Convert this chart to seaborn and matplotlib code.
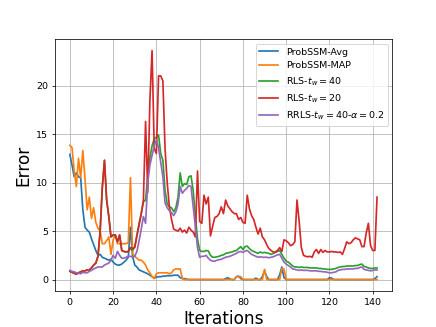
import matplotlib
matplotlib.use("Agg")
import matplotlib.pyplot as plt
import pandas as pd
import seaborn as sns

# iteration index 0..142
iterations = list(range(143))

prob_avg = [
    12.9, 11.8, 10.6, 11.0, 10.6, 10.5, 7.2, 5.4, 5.1, 4.9,
    4.2, 3.6, 3.0, 2.5, 2.6, 2.3, 2.2, 2.1, 2.0, 2.1,
    1.8, 1.6, 1.5, 1.5, 1.6, 1.8, 2.0, 2.3, 5.4, 2.4,
    1.5, 1.3, 1.0, 0.9, 0.8, 0.7, 0.6, 0.45, 0.3, 0.15,
    0.25, 0.3, 0.3, 0.35, 0.35, 0.4, 0.4, 0.4, 0.45, 0.45,
    0.45, 0.2, 0.1, 0.1, 0.05, 0, 0, 0, 0, 0,
    0, 0, 0, 0, 0, 0, 0, 0, 0, 0,
    0, 0, 0.1, 0.2, 0.05, 0, 0, 0.3, 0.35, 0.1,
    0, 0, 0, 0, 0, 0, 0.15, 0, 0, 0.3,
    0.9, 0.3, 0, 0, 0, 0, 0, 0.5, 1.3, 0.2,
    0, 0, 0, 0, 0, 0, 0, 0, 0, 0,
    0, 0, 0, 0, 0, 0, 0, 0, 0, 0,
    0.2, 0.15, 0, 0, 0, 0, 0, 0, 0, 0,
    0, 0, 0, 0, 0, 0, 0, 0, 0, 0,
    0, 0.1, 0.3,
]

prob_map = [
    13.85, 13.6, 11.2, 9.6, 12.5, 10.5, 13.3, 10.4, 7.2, 8.5,
    6.3, 7.4, 5.9, 5.3, 5.0, 3.7, 3.7, 4.0, 4.4, 2.6,
    4.1, 4.6, 3.7, 3.7, 3.7, 3.7, 3.7, 3.8, 10.5, 2.7,
    2.4, 2.2, 2.0, 2.0, 1.8, 1.5, 1.0, 0.7, 0.3, 0.1,
    0.6, 0.7, 0.7, 0.7, 0.7, 0.7, 0.6, 0.7, 1.0, 1.1,
    1.1, 1.1, 0.1, 0, 0, 0, 0, 0, 0, 0,
    0, 0, 0, 0, 0, 0, 0, 0, 0, 0,
    0, 0, 0, 0, 0, 0, 0, 0.3, 0.3, 0.3,
    0, 0, 0, 0, 0, 0, 0, 0, 0, 0,
    1.05, 0, 0, 0, 0, 0, 0, 0, 1.15, 1.1,
    0, 0, 0, 0, 0, 0, 0, 0, 0, 0,
    0, 0, 0, 0, 0, 0, 0, 0, 0, 0,
    0, 0, 0, 0, 0, 0, 0, 0, 0, 0,
    0, 0, 0, 0, 0, 0, 0, 0, 0, 0,
    0, 0, 0,
]

rls_40 = [
    0.85, 0.75, 0.65, 0.55, 0.7, 0.8, 0.9, 0.9, 1.0, 1.0,
    1.2, 1.5, 1.7, 2.4, 5.0, 9.5, 12.3, 8.2, 6.5, 4.4,
    4.6, 4.6, 3.9, 4.6, 3.0, 2.9, 2.85, 2.9, 3.2, 3.0,
    3.4, 4.6, 5.8, 6.8, 8.0, 8.2, 10.6, 12.5, 13.8, 14.5,
    14.7, 14.9, 13.0, 12.3, 9.2, 7.8, 7.5, 7.4, 7.0, 7.4,
    8.5, 11.0, 9.6, 9.9, 9.8, 10.6, 10.7, 9.2, 6.6, 4.2,
    3.0, 2.9, 2.9, 3.0, 2.95, 2.5, 2.3, 2.3, 2.35, 2.4,
    2.5, 2.55, 2.7, 2.75, 2.8, 2.85, 2.95, 3.0, 3.2, 3.4,
    3.1, 3.4, 3.45, 3.2, 3.0, 2.9, 2.8, 2.7, 2.85, 2.75,
    2.8, 2.75, 2.7, 2.6, 2.7, 2.8, 2.9, 3.0, 2.6, 2.2,
    1.9, 1.8, 1.6, 1.4, 1.3, 1.3, 1.25, 1.3, 1.25, 1.25,
    1.25, 1.2, 1.2, 1.2, 1.2, 1.15, 1.15, 1.1, 1.1, 1.05,
    1.05, 1.05, 1.1, 1.15, 1.25, 1.3, 1.35, 1.35, 1.4, 1.4,
    1.4, 1.4, 1.45, 1.45, 1.55, 1.6, 1.35, 1.3, 1.2, 1.15,
    1.15, 1.2, 1.2,
]

rls_20 = [
    0.85, 0.75, 0.65, 0.55, 0.7, 0.8, 0.9, 0.9, 1.0, 1.0,
    1.2, 1.5, 1.7, 2.4, 5.0, 9.5, 12.3, 8.2, 6.5, 4.4,
    4.6, 4.6, 3.9, 4.6, 3.0, 2.9, 2.85, 2.9, 3.3, 3.2,
    3.3, 4.5, 5.6, 6.8, 8.2, 16.3, 9.0, 18.5, 23.6, 13.5,
    13.0, 21.0, 21.0, 20.5, 13.5, 10.0, 7.5, 6.2, 5.2, 5.1,
    5.0, 5.3, 4.9, 5.1, 4.8, 5.4, 5.1, 4.9, 4.4, 11.2,
    6.0, 5.8, 8.7, 7.8, 8.5, 4.5, 5.5, 6.4, 6.5, 6.8,
    7.5, 6.8, 8.2, 7.6, 7.3, 7.0, 6.8, 6.8, 6.2, 6.4,
    5.9, 5.8, 8.7, 7.3, 6.6, 6.2, 5.4, 4.7, 5.3, 4.4,
    4.1, 3.6, 3.2, 3.0, 2.85, 2.85, 3.0, 3.3, 2.9, 4.1,
    4.0, 3.8, 3.5, 3.6, 3.9, 8.2, 6.0, 3.3, 2.5, 2.4,
    2.35, 2.4, 2.3, 2.85, 3.1, 2.7, 3.1, 2.8, 3.0, 2.85,
    2.85, 2.9, 2.85, 2.85, 2.8, 2.85, 2.6, 3.2, 3.9, 3.7,
    3.8, 4.1, 4.3, 4.2, 4.1, 3.4, 3.4, 4.8, 5.8, 3.5,
    3.0, 3.0, 8.5,
]

rrls_40 = [
    0.95, 0.85, 0.8, 0.7, 0.65, 0.6, 0.75, 0.7, 0.7, 0.85,
    0.95, 1.1, 1.2, 1.3, 1.3, 1.3, 1.5, 1.6, 1.7, 2.0,
    2.5, 2.2, 2.9, 2.5, 2.2, 2.2, 2.3, 2.4, 2.4, 2.3,
    2.4, 2.9, 4.0, 5.2, 6.5, 5.8, 10.0, 11.8, 12.8, 13.8,
    14.4, 13.6, 12.1, 10.6, 7.9, 7.4, 7.1, 6.9, 6.6, 7.0,
    7.8, 9.6, 8.9, 9.2, 9.4, 9.7, 9.6, 7.6, 5.5, 3.3,
    2.3, 2.4, 2.4, 2.5, 2.2, 2.0, 1.9, 1.9, 2.0, 2.05,
    2.1, 2.2, 2.3, 2.35, 2.4, 2.5, 2.6, 2.7, 2.85, 2.9,
    2.8, 2.95, 3.0, 2.8, 2.6, 2.5, 2.4, 2.3, 2.35, 2.3,
    2.3, 2.3, 2.25, 2.3, 2.35, 2.45, 2.55, 2.6, 2.2, 1.8,
    1.6, 1.45, 1.3, 1.1, 1.05, 1.0, 0.95, 1.0, 0.95, 0.95,
    0.95, 0.9, 0.9, 0.9, 0.9, 0.85, 0.85, 0.8, 0.8, 0.75,
    0.7, 0.7, 0.75, 0.8, 0.95, 1.0, 1.05, 1.05, 1.1, 1.1,
    1.1, 1.1, 1.15, 1.15, 1.25, 1.3, 1.05, 1.0, 0.95, 0.9,
    0.95, 1.0, 1.0,
]

labels = [
    "ProbSSM-Avg",
    "ProbSSM-MAP",
    "RLS-$t_w = 40$",
    "RLS-$t_w = 20$",
    "RRLS-$t_w = 40$-$\\alpha = 0.2$",
]
colors = ["#1f77b4", "#ff7f0e", "#2ca02c", "#d62728", "#9467bd"]


def draw_errors(path: str = "out.png") -> str:
    """
    Draw error curves of all methods over iterations
    :param path: output file
    :return: path to plot
    """
    series = [prob_avg, prob_map, rls_40, rls_20, rrls_40]

    fig, ax = plt.subplots(figsize=(6.4, 4.8))
    for values, label, color in zip(series, labels, colors):
        df = pd.DataFrame({"Iterations": iterations, "Error": values})
        sns.lineplot(data=df, x="Iterations", y="Error", ax=ax,
                     color=color, label=label, linewidth=1.8)

    ax.grid(True)
    ax.set_xlabel("Iterations", fontsize=18)
    ax.set_ylabel("Error", fontsize=18)
    ax.legend(loc="upper right")

    fig.savefig(path, dpi=68.125)
    plt.close(fig)
    return path


if __name__ == "__main__":
    draw_errors()
